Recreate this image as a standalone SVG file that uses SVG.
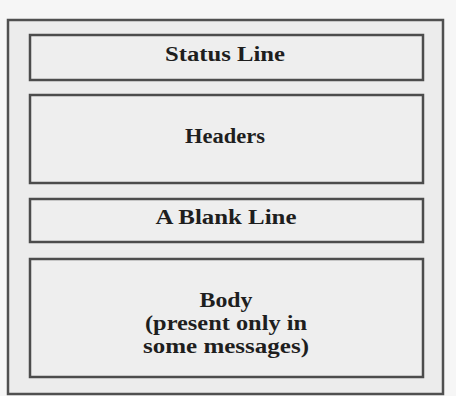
<svg xmlns="http://www.w3.org/2000/svg" width="456" height="396" viewBox="0 0 456 396">
  <style>
    .frame { fill: #ececec; stroke: #505050; stroke-width: 2.5; }
    .box { fill: #eeeeee; stroke: #4c4c4c; stroke-width: 2.5; }
    .label { font-family: "Liberation Serif", "Times New Roman", serif; font-weight: bold; font-size: 20px; fill: #1e1e1e; text-anchor: middle; }
  </style>
  <rect x="0" y="0" width="456" height="396" fill="#f6f6f6"/>

  <!-- outer message frame -->
  <g id="message">
    <rect class="frame" x="8" y="20" width="435" height="374"/>
  </g>

  <g id="status-line">
    <rect class="box" x="30" y="35" width="393" height="45"/>
    <text class="label" x="225" y="61" textLength="120" lengthAdjust="spacingAndGlyphs">Status Line</text>
  </g>

  <g id="headers">
    <rect class="box" x="30" y="95" width="393" height="88"/>
    <text class="label" x="225" y="143" textLength="80" lengthAdjust="spacingAndGlyphs">Headers</text>
  </g>

  <g id="blank-line">
    <rect class="box" x="30" y="199" width="393" height="43"/>
    <text class="label" x="226" y="224" textLength="141" lengthAdjust="spacingAndGlyphs">A Blank Line</text>
  </g>

  <g id="body">
    <rect class="box" x="30" y="259" width="393" height="118"/>
    <text class="label" x="226" y="307" textLength="53" lengthAdjust="spacingAndGlyphs">Body</text>
    <text class="label" x="226" y="330" textLength="162" lengthAdjust="spacingAndGlyphs">(present only in</text>
    <text class="label" x="226" y="353" textLength="166" lengthAdjust="spacingAndGlyphs">some messages)</text>
  </g>

  <g id="connectors"/>
</svg>
